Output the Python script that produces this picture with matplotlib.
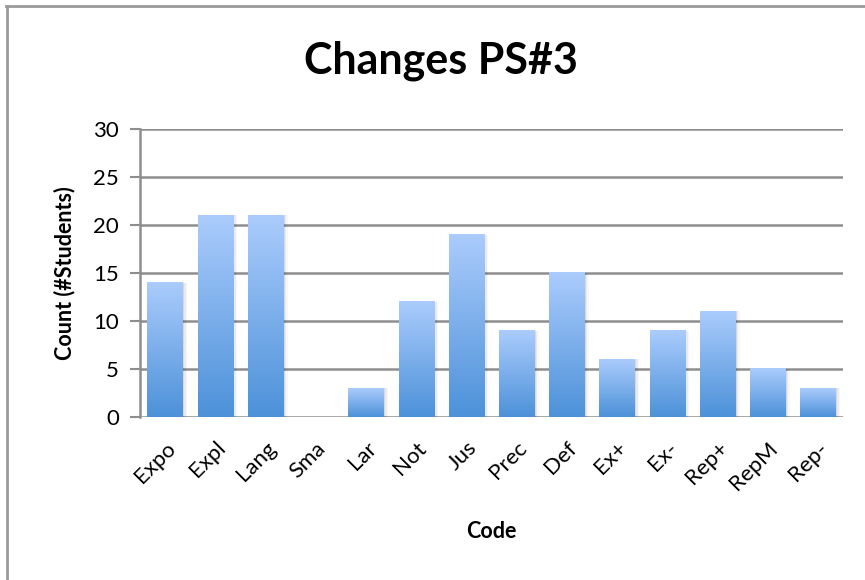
import numpy as np
import matplotlib
matplotlib.use("Agg")
import matplotlib.pyplot as plt
from matplotlib.patches import Rectangle
from matplotlib.lines import Line2D

categories = ["Expo", "Expl", "Lang", "Sma", "Lar", "Not", "Jus", "Prec",
              "Def", "Ex+", "Ex-", "Rep+", "RepM", "Rep-"]
counts = [14, 21, 21, 0, 3, 12, 19, 9, 15, 6, 9, 11, 5, 3]
y_ticks = [0, 5, 10, 15, 20, 25, 30]

plt.rcParams["font.family"] = ["Lato", "DejaVu Sans"]

fig = plt.figure(figsize=(8.65, 5.8), dpi=100)
ax = fig.add_axes([0.1618, 0.281, 0.8128, 0.4966])

x = np.arange(len(categories))
bars = ax.bar(x, counts, width=0.7, color="none", zorder=3)

# vertical gradient: light blue at the top, deeper blue at the bottom
top_rgb = np.array([0.67, 0.80, 0.99])
bot_rgb = np.array([0.30, 0.57, 0.85])
t = np.linspace(0, 1, 256)[:, None]
grad = (top_rgb[None, :] * (1 - t) + bot_rgb[None, :] * t)[:, None, :]

for b in bars:
    bx, by, bw, bh = b.get_x(), b.get_y(), b.get_width(), b.get_height()
    if bh <= 0:
        continue
    # soft shadow on the right
    for k, a in zip((0.03, 0.06, 0.09), (0.08, 0.05, 0.03)):
        ax.add_patch(Rectangle((bx + k, by), bw, bh, facecolor="black",
                               alpha=a, edgecolor="none", zorder=2))
    ax.imshow(grad, extent=[bx, bx + bw, by, by + bh], aspect="auto",
              zorder=3, interpolation="bilinear")

ax.set_xlim(-0.5, len(categories) - 0.5)
ax.set_ylim(0, 30)
ax.set_yticks(y_ticks)
ax.set_xticks(x)
ax.set_xticklabels(categories, rotation=45, ha="right", va="top",
                   rotation_mode="anchor", fontsize=16)
ax.tick_params(axis="x", length=0, pad=15)
ax.tick_params(axis="y", length=7, width=1.5, color="#8e8e8e",
               labelsize=16, pad=8, direction="out")

for v in y_ticks:
    ax.axhline(v, color="#8e8e8e", linewidth=1.8, zorder=1)

for s in ("top", "right", "bottom"):
    ax.spines[s].set_visible(False)
ax.spines["left"].set_color("#8e8e8e")
ax.spines["left"].set_linewidth(1.8)
ax.spines["left"].set_zorder(4)

ax.set_ylabel("Count (#Students)", fontsize=15.5, fontweight="bold", labelpad=13)
ax.set_xlabel("Code", fontsize=15.5, fontweight="bold", labelpad=20)
fig.text(0.51, 0.895, "Changes PS#3", ha="center", va="center",
         fontsize=31, fontweight="bold")

# chart frame (top and left edges visible)
fig.add_artist(Line2D([0.007, 1.0], [0.9897, 0.9897], transform=fig.transFigure,
                      color="#9a9a9a", linewidth=2))
fig.add_artist(Line2D([0.008, 0.008], [0.0, 0.99], transform=fig.transFigure,
                      color="#9a9a9a", linewidth=2))

fig.savefig("out.png", dpi=100, facecolor="white")
